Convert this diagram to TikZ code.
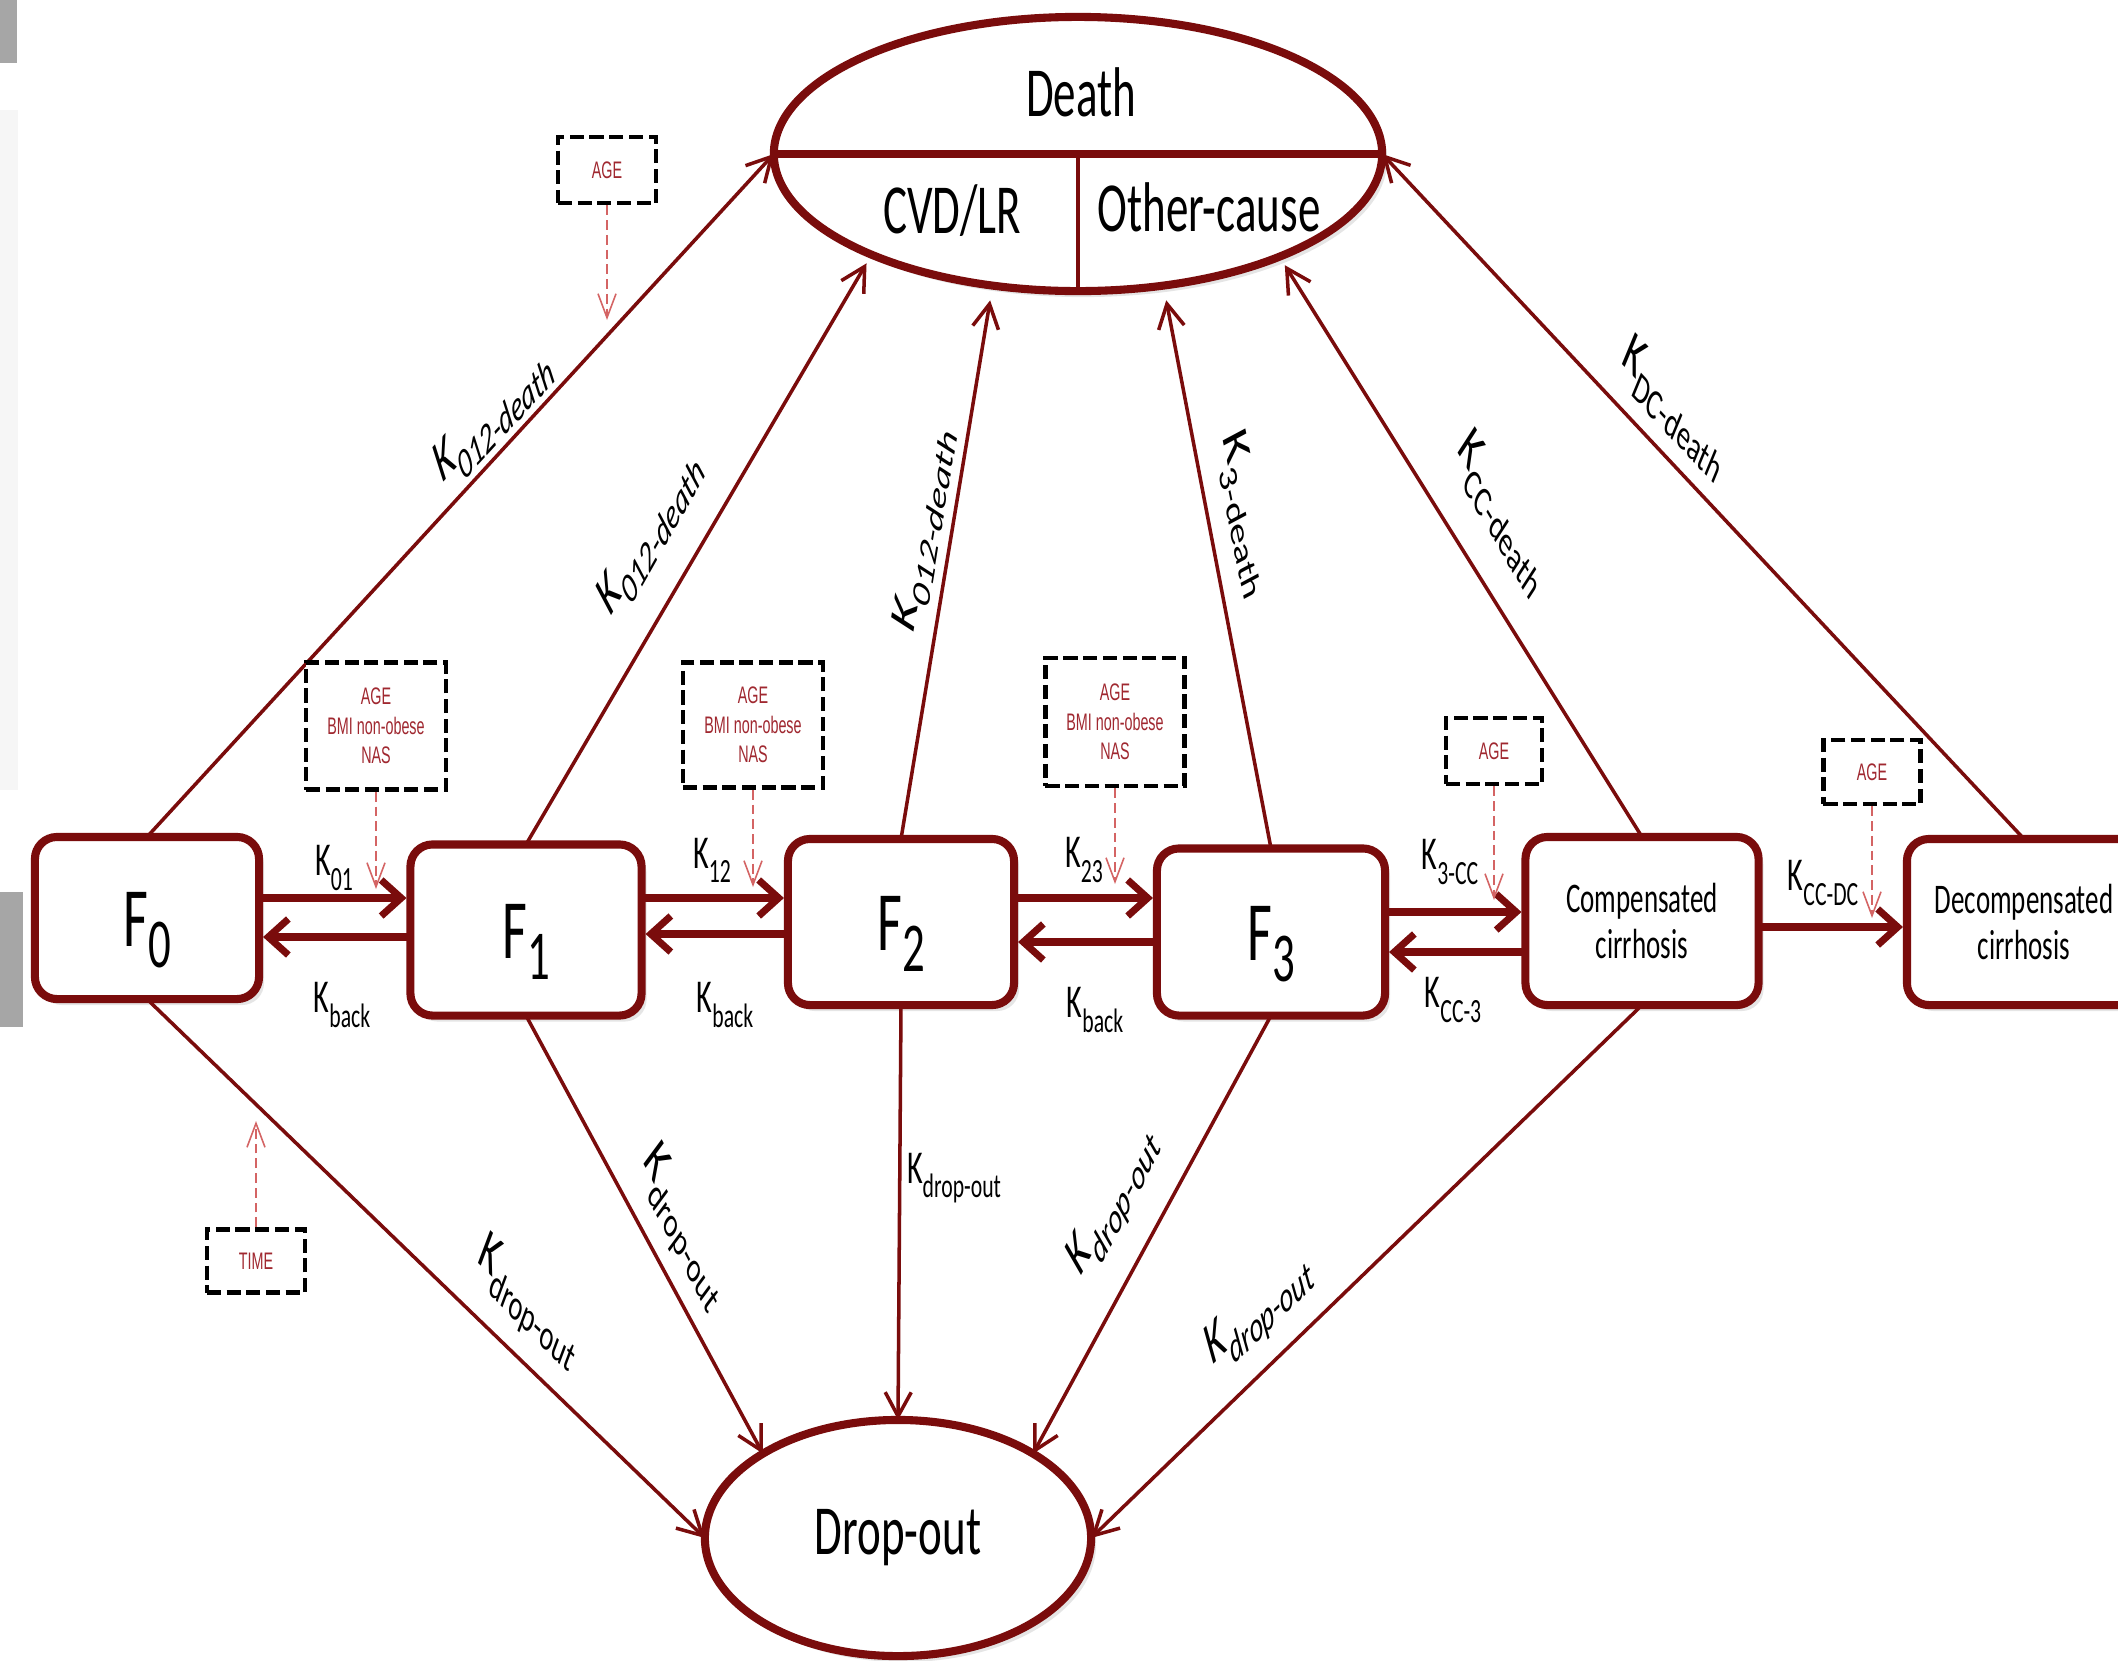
\documentclass[tikz,border=0pt]{standalone}
\usepackage{fontspec}
\usepackage{graphicx}
\usetikzlibrary{arrows.meta,shapes.geometric,shadows}
\newfontfamily\cfont[FakeStretch=0.64]{Carlito}
\newfontfamily\rfont{Carlito}
\newfontfamily\afont[FakeStretch=0.6]{Liberation Sans}
\definecolor{mred}{RGB}{122,12,12}
\definecolor{tred}{RGB}{160,40,48}
\definecolor{dred}{RGB}{212,100,100}
\definecolor{gbar}{RGB}{166,166,166}
\definecolor{gpan}{RGB}{246,246,246}
\newcommand{\Kx}[1]{K\raisebox{-0.3em}{\scalebox{0.72}{#1}}}
\newcommand{\Fx}[1]{F\raisebox{-0.26em}{\scalebox{0.83}{#1}}}
\newcommand{\slant}[2]{\scalebox{0.62}[1]{\rotatebox{#1}{#2}}}
\tikzset{
  shd/.style={drop shadow={shadow xshift=0.05cm, shadow yshift=-0.06cm, opacity=0.2}},
  stt/.style={rectangle, draw=mred, line width=2.3pt, rounded corners=0.22cm, fill=white, inner sep=0pt, outer sep=0pt, align=center, shd},
  ovl/.style={ellipse, draw=mred, line width=2.3pt, fill=white, inner sep=0pt, outer sep=0pt, shd},
  big/.style={font=\cfont\fontsize{20}{24}\selectfont, inner sep=0pt},
  fst/.style={stt, font=\cfont\fontsize{24}{28}\selectfont, text height=0.56cm, text depth=0pt},
  cst/.style={stt, font=\cfont\fontsize{12}{13}\selectfont},
  tn/.style={draw=mred, line width=1pt, -{Straight Barb[length=0.24cm,width=0.26cm]}},
  tk/.style={draw=mred, line width=2pt, shorten >=0.04cm, -{Straight Barb[length=0.2cm,width=0.36cm]}},
  cov/.style={draw=black, fill=white, line width=1.3pt, dash pattern=on 4pt off 1.6pt, inner sep=0pt, text=tred, align=center, font=\afont\fontsize{6.8}{8.4}\selectfont},
  cva/.style={draw=dred, line width=0.45pt, dash pattern=on 2.8pt off 1.4pt, -{Straight Barb[length=0.24cm,width=0.18cm,line width=0.45pt]}},
  hk/.style={font=\cfont\fontsize{13.4}{15}\selectfont, inner sep=0pt},
  rk/.style={font=\rfont\fontsize{17}{19}\selectfont, inner sep=0pt},
}
\begin{document}
\begin{tikzpicture}[x=0.01cm,y=-0.01cm]
\useasboundingbox (0,0) rectangle (2118,1660);
\clip (0,0) rectangle (2118,1660);
\fill[white] (0,0) rectangle (2118,1660);
\fill[gbar] (0,0) rectangle (17,63);
\fill[gpan] (0,110) rectangle (18,790);
\fill[gbar] (0,892) rectangle (23,1027);

% Death ellipse
\node[ovl, minimum width=6.08cm, minimum height=2.74cm] (Death) at (1078,154) {};
\draw[mred, line width=2.3pt] (Death.180) -- (Death.0);
\draw[mred, line width=1.4pt] (Death.center) -- (Death.270);
\node[big] (tDeath) at (1081,92) {Death};
\node[big] (tCVD) at (952,211) {CVD/LR};
\node[big] (tOther) at (1209,207) {Other-cause};

% Drop-out ellipse
\node[ovl, big, minimum width=3.86cm, minimum height=2.36cm] (Drop) at (898,1538) {Drop-out};

% states
\node[fst, minimum width=2.24cm, minimum height=1.62cm] (F0) at (147,918) {\Fx{0}};
\node[fst, minimum width=2.31cm, minimum height=1.71cm] (F1) at (526,930) {\Fx{1}};
\node[fst, minimum width=2.26cm, minimum height=1.66cm] (F2) at (901,922) {\Fx{2}};
\node[fst, minimum width=2.28cm, minimum height=1.67cm] (F3) at (1271,932) {\Fx{3}};
\node[cst, minimum width=2.33cm, minimum height=1.68cm] (CC) at (1642,921) {Compensated\\cirrhosis};
\node[cst, minimum width=2.34cm, minimum height=1.66cm] (DC) at (2024,922) {Decompensated\\cirrhosis};

% to death
\draw[tn] (F0.north) -- (Death.180);
\draw[tn, shorten >=0.1cm] (F1.north) -- (Death.206);
\draw[tn, shorten >=0.15cm] (F2.north) -- (Death.237);
\draw[tn, shorten >=0.15cm] (F3.north) -- (Death.303);
\draw[tn, shorten >=0.1cm] (CC.north) -- (Death.333);
\draw[tn] (DC.north) -- (Death.0);

% to drop-out
\draw[tn] (F0.south) -- (Drop.180);
\draw[tn] (F1.south) -- (Drop.148);
\draw[tn] (F2.south) -- (Drop.90);
\draw[tn] (F3.south) -- (Drop.32);
\draw[tn] (CC.south) -- (Drop.0);

% horizontal transitions
\draw[tk] (F0.east |- 0,898) -- (F1.west |- 0,898);
\draw[tk] (F1.west |- 0,937) -- (F0.east |- 0,937);
\draw[tk] (F1.east |- 0,898) -- (F2.west |- 0,898);
\draw[tk] (F2.west |- 0,934) -- (F1.east |- 0,934);
\draw[tk] (F2.east |- 0,898) -- (F3.west |- 0,898);
\draw[tk] (F3.west |- 0,942) -- (F2.east |- 0,942);
\draw[tk] (F3.east |- 0,912) -- (CC.west |- 0,912);
\draw[tk] (CC.west |- 0,952) -- (F3.east |- 0,952);
\draw[tk] (CC.east |- 0,927) -- (DC.west |- 0,927);

% covariate boxes
\node[cov, minimum width=0.98cm, minimum height=0.66cm] (cAge0) at (607,170) {AGE};
\node[cov, minimum width=1.40cm, minimum height=1.27cm] (c01) at (376,726) {AGE\\BMI non-obese\\NAS};
\node[cov, minimum width=1.40cm, minimum height=1.25cm] (c12) at (753,725) {AGE\\BMI non-obese\\NAS};
\node[cov, minimum width=1.39cm, minimum height=1.28cm] (c23) at (1115,722) {AGE\\BMI non-obese\\NAS};
\node[cov, minimum width=0.96cm, minimum height=0.66cm] (c3cc) at (1494,751) {AGE};
\node[cov, minimum width=0.97cm, minimum height=0.64cm] (cccdc) at (1872,772) {AGE};
\node[cov, minimum width=0.98cm, minimum height=0.63cm] (cTime) at (256,1261) {TIME};
\coordinate (a0) at (607,320);
\coordinate (a01) at (377,889);
\coordinate (a12) at (753,887);
\coordinate (a23) at (1116,884);
\coordinate (a3cc) at (1495,900);
\coordinate (accdc) at (1873,918);
\coordinate (atime) at (257,1121);
\draw[cva] (cAge0.south) -- (cAge0.south |- a0);
\draw[cva] (c01.south) -- (c01.south |- a01);
\draw[cva] (c12.south) -- (c12.south |- a12);
\draw[cva] (c23.south) -- (c23.south |- a23);
\draw[cva] (c3cc.south) -- (c3cc.south |- a3cc);
\draw[cva] (cccdc.south) -- (cccdc.south |- accdc);
\draw[cva] (cTime.north) -- (cTime.north |- atime);

% horizontal rate labels
\node[hk] (k01) at (334,868) {\Kx{01}};
\node[hk] (kb01) at (342,1005) {\Kx{back}};
\node[hk] (k12) at (712,860) {\Kx{12}};
\node[hk] (kb12) at (725,1005) {\Kx{back}};
\node[hk] (k23) at (1084,860) {\Kx{23}};
\node[hk] (kb23) at (1095,1010) {\Kx{back}};
\node[hk] (k3cc) at (1450,862) {\Kx{3-CC}};
\node[hk] (kcc3) at (1453,1000) {\Kx{CC-3}};
\node[hk] (kccdc) at (1823,883) {\Kx{CC-DC}};
\node[hk] (kdo2) at (954,1178) {\Kx{drop-out}};

% slanted rate labels
\node[rk] (kd0) at (493,416) {\slant{34.2}{\itshape\Kx{012-death}}};
\node[rk] (kd1) at (650,533) {\slant{47.5}{\itshape\Kx{012-death}}};
\node[rk] (kd2) at (924,530) {\slant{75.1}{\itshape\Kx{012-death}}};
\node[rk] (kd3) at (1245,514) {\slant{-71.7}{\Kx{3-death}}};
\node[rk] (kdcc) at (1502,513) {\slant{-46.3}{\Kx{CC-death}}};
\node[rk] (kddc) at (1674,408) {\slant{-33.7}{\Kx{DC-death}}};
\node[rk] (ko0) at (528,1304) {\slant{-31.2}{\Kx{drop-out}}};
\node[rk] (ko1) at (683,1228) {\slant{-50}{\Kx{drop-out}}};
\node[rk] (ko3) at (1114,1203) {\slant{50}{\itshape\Kx{drop-out}}};
\node[rk] (kocc) at (1259,1312) {\slant{31.3}{\itshape\Kx{drop-out}}};
\end{tikzpicture}
\end{document}
